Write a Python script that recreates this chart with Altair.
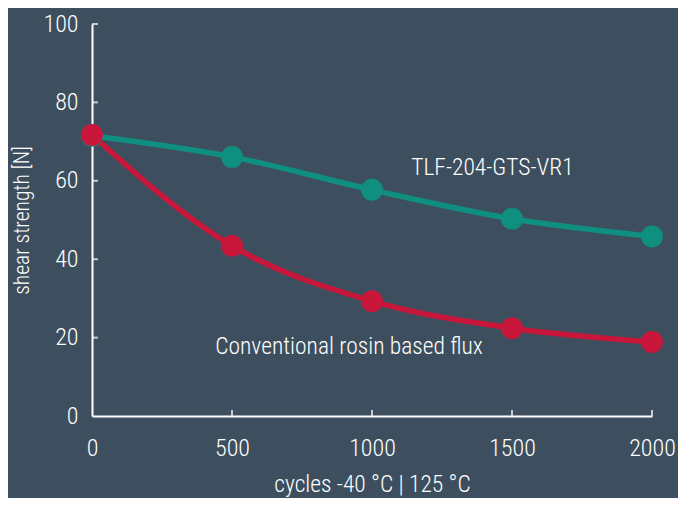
import altair as alt
import pandas as pd

cycles = [0, 500, 1000, 1500, 2000]
tlf = [71.5, 66.1, 57.7, 50.3, 45.8]
conv = [71.7, 43.4, 29.3, 22.4, 18.9]
series_names = ["TLF-204-GTS-VR1", "Conventional rosin based flux"]
label_x = [1140, 440]
label_y = [63.3, 17.6]
y_ticks = [0, 20, 40, 60, 80, 100]
x_ticks = [0, 500, 1000, 1500, 2000]

BG = "#3d4f5e"
TEAL = "#0f8f80"
RED = "#c8173a"
FONT = "Roboto Condensed, DejaVu Sans Condensed, Roboto, sans-serif"

rows = []
for c, a, b in zip(cycles, tlf, conv):
    rows.append({"cycles": c, "value": a, "series": series_names[0]})
    rows.append({"cycles": c, "value": b, "series": series_names[1]})
df = pd.DataFrame(rows)
labels = pd.DataFrame({"name": series_names, "x": label_x, "y": label_y})
yt = pd.DataFrame({"v": y_ticks[1:]})
xt = pd.DataFrame({"v": x_ticks[1:]})

xs = alt.Scale(domain=[0, 2000], nice=False)
ys = alt.Scale(domain=[0, 100], nice=False)
color = alt.Color("series:N", scale=alt.Scale(domain=series_names, range=[TEAL, RED]), legend=None)

xaxis = alt.Axis(values=x_ticks, format="d", title="cycles -40 °C | 125 °C", grid=False, ticks=False,
                 labelPadding=20, titlePadding=12, labelFlush=False, titleFontSize=23.5)
yaxis = alt.Axis(values=y_ticks, format="d", title="shear strength [N]", grid=False, ticks=False,
                 labelPadding=14, titlePadding=9, titleFontSize=21.5)

base = alt.Chart(df)
lines = base.mark_line(interpolate="monotone", strokeWidth=5.5).encode(
    x=alt.X("cycles:Q", scale=xs, axis=xaxis),
    y=alt.Y("value:Q", scale=ys, axis=yaxis),
    color=color,
    order=alt.Order("series:N", sort="descending"),
)
points = base.mark_circle(size=480, opacity=1).encode(
    x=alt.X("cycles:Q", scale=xs),
    y=alt.Y("value:Q", scale=ys),
    color=color,
)
text = alt.Chart(labels).mark_text(align="left", baseline="middle", fontSize=23.5, fontWeight=300,
                                   color="#ffffff", font=FONT).encode(
    x=alt.X("x:Q", scale=xs),
    y=alt.Y("y:Q", scale=ys),
    text="name:N",
)
yticks = alt.Chart(yt).mark_tick(orient="horizontal", size=6, thickness=2, color="#ffffff", xOffset=3).encode(
    x=alt.value(0), y=alt.Y("v:Q", scale=ys)
)
xticks = alt.Chart(xt).mark_tick(orient="vertical", size=6, thickness=2, color="#ffffff", yOffset=-3).encode(
    x=alt.X("v:Q", scale=xs), y=alt.value(392)
)

chart = alt.layer(yticks, xticks, lines, points, text).properties(
    width=560, height=392, background=BG,
    padding={"left": 84, "top": 16, "right": 26, "bottom": 82},
    autosize=alt.AutoSizeParams(type="none"),
).configure_view(stroke=None).configure_axis(
    domainColor="#ffffff", domainWidth=2, labelColor="#ffffff", titleColor="#ffffff",
    labelFont=FONT, titleFont=FONT, labelFontSize=24,
    titleFontWeight=300, labelFontWeight=300,
)

chart.save("out.html", embed_options={"renderer": "svg", "actions": False})
